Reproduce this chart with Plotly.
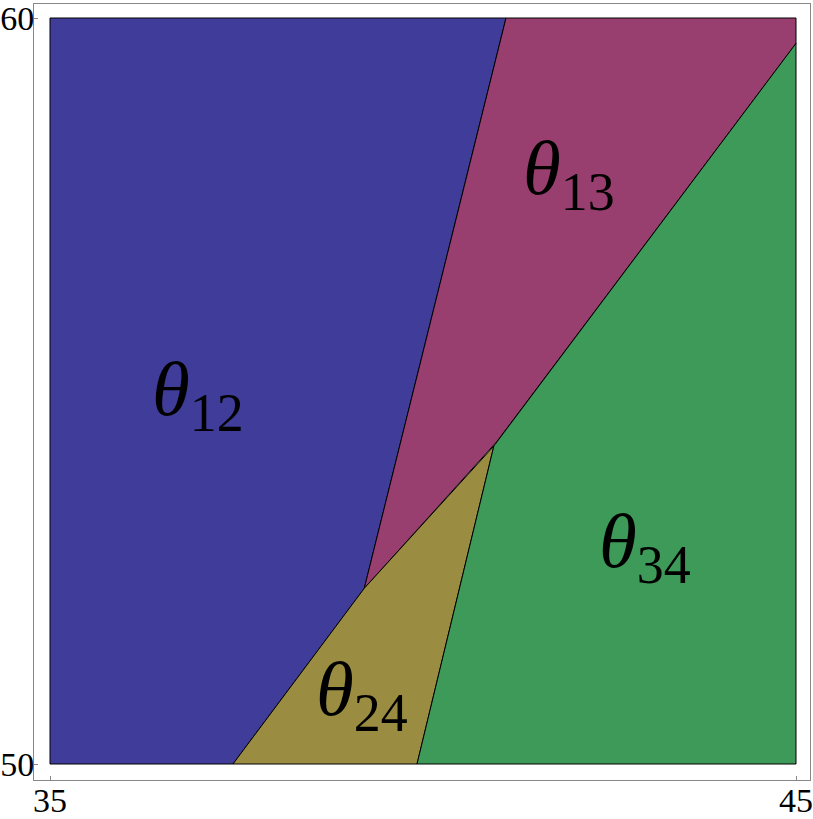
import plotly.graph_objects as go

# Region boundaries (data coordinates)
blue_x = [35.0, 37.453, 39.213, 41.113, 35.0]
blue_y = [50.0, 50.0, 52.355, 60.0, 60.0]

magenta_x = [41.113, 45.0, 45.0, 40.988, 39.213]
magenta_y = [60.0, 60.0, 59.66, 54.320, 52.355]

gold_x = [37.453, 39.920, 40.950, 39.213]
gold_y = [50.0, 50.0, 54.262, 52.355]

green_x = [39.920, 45.0, 45.0, 40.988, 40.950]
green_y = [50.0, 50.0, 59.66, 54.320, 54.262]

labels = ["12", "13", "34", "24"]
label_x = [36.98, 41.96, 42.98, 39.18]
label_y = [54.95, 57.91, 52.92, 50.93]

x_ticks = [35, 45]
y_ticks = [50, 60]

regions = [
    (blue_x, blue_y, "#3F3D99"),
    (magenta_x, magenta_y, "#993F6F"),
    (gold_x, gold_y, "#9A8C40"),
    (green_x, green_y, "#3E9A59"),
]

fig = go.Figure()
for xs, ys, col in regions:
    fig.add_trace(go.Scatter(
        x=xs + [xs[0]], y=ys + [ys[0]], mode="lines", fill="toself",
        fillcolor=col, line=dict(color="black", width=1),
        hoverinfo="skip", showlegend=False,
    ))

for lab, lx, ly in zip(labels, label_x, label_y):
    fig.add_annotation(
        x=lx, y=ly, xref="x", yref="y", showarrow=False,
        text=f"<i>θ</i><sub>{lab}</sub>",
        font=dict(family="Liberation Serif", size=77, color="black"),
    )

pxu = 746 / 10.0
common = dict(
    ticks="inside", ticklen=4, tickcolor="#888888",
    showline=True, linecolor="#888888", linewidth=1, mirror=True,
    showgrid=False, zeroline=False, automargin=False,
    ticklabeloverflow="allow",
    tickfont=dict(family="Liberation Serif", size=34, color="black"),
)
fig.update_xaxes(range=[35 - 16 / pxu, 45 + 14 / pxu], tickvals=x_ticks,
                 ticklabelstandoff=-10, **common)
fig.update_yaxes(range=[50 - 16 / pxu, 60 + 14 / pxu], tickvals=y_ticks,
                 ticklabelstandoff=-8, **common)
fig.update_layout(
    width=813, height=819,
    margin=dict(l=34, r=3, t=4, b=39),
    plot_bgcolor="white", paper_bgcolor="white",
)
fig.write_html(
    "out.html",
    config={"displayModeBar": False},
    post_script="document.body.style.margin='0';document.body.style.overflow='hidden';",
)
